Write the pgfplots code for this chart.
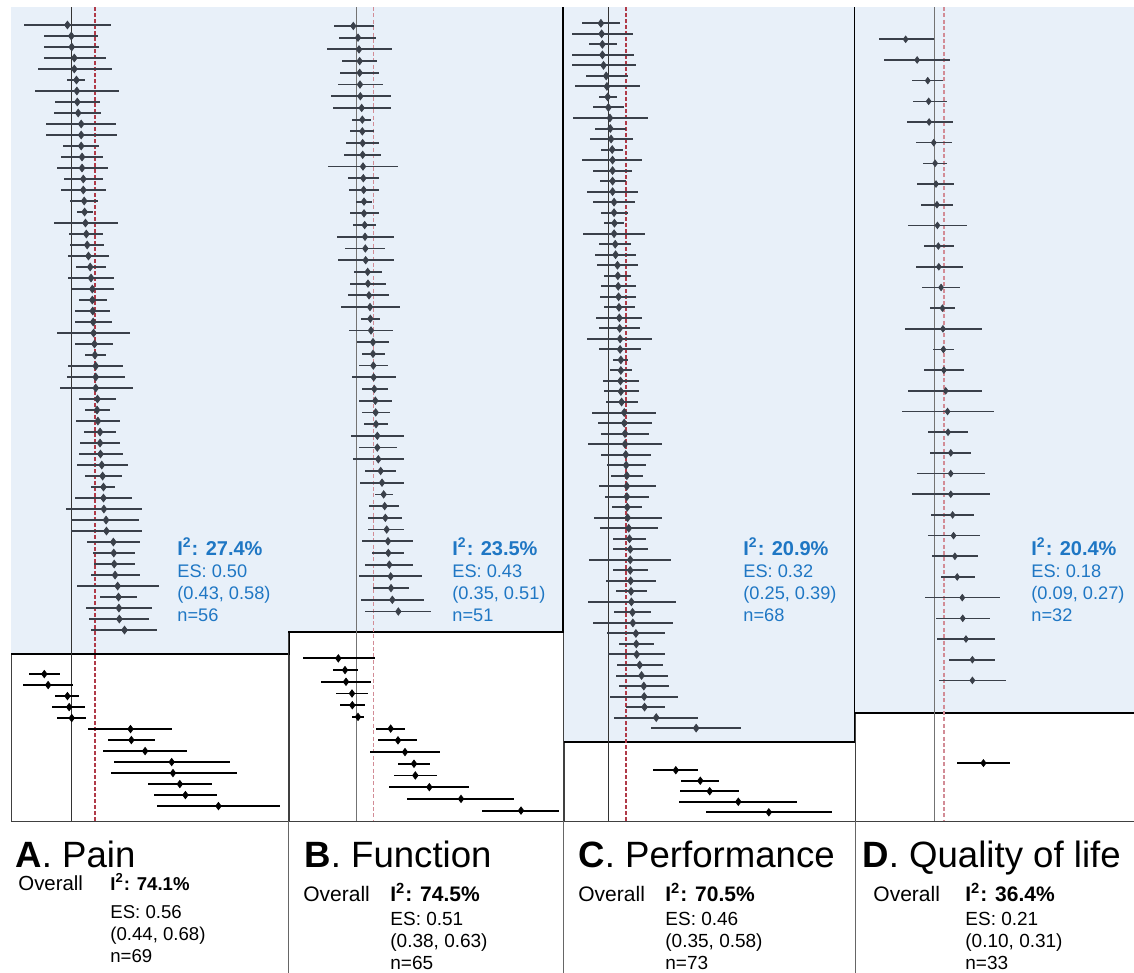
\documentclass[border=0pt]{standalone}
\usepackage{fontspec}
\setmainfont{Liberation Sans}
\usepackage{pgfplots}
\pgfplotsset{compat=1.18}
\usepackage{pgfplotstable}
\definecolor{bluebg}{RGB}{232,240,249}
\definecolor{bluetxt}{RGB}{31,119,196}
\definecolor{cigray}{RGB}{58,64,74}
\definecolor{dashred}{RGB}{176,58,72}
\definecolor{dashpink}{RGB}{210,140,150}

\pgfplotstableread{
s es lo hi
1 -0.09 -1.11 0.92
2 0.00 -0.63 0.63
3 0.01 -0.63 0.64
4 0.07 -0.64 0.80
5 0.07 -0.78 0.94
6 0.12 -0.11 0.33
7 0.13 -0.85 1.11
8 0.14 -0.38 0.67
9 0.16 -0.40 0.69
10 0.23 -0.59 1.05
11 0.23 -0.59 1.06
12 0.23 -0.19 0.65
13 0.25 -0.23 0.74
14 0.25 -0.33 0.85
15 0.28 -0.18 0.74
16 0.28 -0.23 0.80
17 0.30 -0.02 0.63
18 0.31 0.13 0.50
19 0.33 -0.40 1.10
20 0.35 -0.05 0.75
21 0.37 -0.02 0.77
22 0.40 -0.07 0.87
23 0.44 0.10 0.81
24 0.46 -0.07 1.00
25 0.49 0.02 1.00
26 0.49 0.17 0.84
27 0.50 0.09 0.90
28 0.51 0.09 0.94
29 0.52 -0.34 1.37
30 0.54 0.09 0.98
31 0.55 0.31 0.80
32 0.57 -0.07 1.20
33 0.57 -0.09 1.24
34 0.57 -0.26 1.43
35 0.61 0.17 1.04
36 0.60 0.31 0.90
37 0.62 0.11 1.14
38 0.67 0.29 1.05
39 0.67 0.21 1.14
40 0.68 0.17 1.20
41 0.71 0.14 1.31
42 0.73 0.31 1.17
43 0.75 0.47 1.03
44 0.75 0.08 1.42
45 0.76 -0.12 1.65
46 0.81 0.00 1.58
47 0.82 0.00 1.64
48 0.98 0.37 1.59
49 0.99 0.50 1.48
50 1.00 0.52 1.49
51 1.02 0.47 1.59
52 1.08 0.14 2.04
53 1.10 0.68 1.52
54 1.11 0.35 1.87
55 1.12 0.42 1.82
56 1.24 0.47 2.00
}\Ain
\pgfplotstableread{
s es lo hi
60 -0.63 -0.99 -0.26
61 -0.54 -1.13 0.04
62 -0.09 -0.37 0.18
63 -0.05 -0.44 0.32
64 0.01 -0.33 0.35
65 1.38 0.40 2.34
66 1.40 0.86 1.95
67 1.72 0.75 2.69
68 2.34 0.99 3.69
69 2.37 0.92 3.86
70 2.53 1.78 3.28
71 2.66 1.92 3.40
72 3.43 2.00 4.87
}\Aout
\pgfplotstableread{
s es lo hi
1 -0.10 -0.69 0.52
2 0.04 -0.53 0.59
3 0.07 -0.89 1.05
4 0.09 -0.44 0.62
5 0.09 -0.49 0.67
6 0.10 -0.56 0.78
7 0.11 -0.78 1.03
8 0.15 -0.71 1.02
9 0.17 -0.14 0.44
10 0.17 -0.20 0.52
11 0.18 -0.31 0.66
12 0.18 -0.38 0.73
13 0.19 -0.85 1.23
14 0.20 -0.27 0.66
15 0.21 -0.23 0.66
16 0.22 -0.03 0.47
17 0.22 -0.20 0.66
18 0.24 -0.12 0.59
19 0.25 -0.60 1.13
20 0.26 -0.34 0.86
21 0.27 -0.56 1.11
22 0.33 -0.07 0.75
23 0.34 -0.20 0.89
24 0.37 -0.25 0.97
25 0.40 -0.47 1.29
26 0.41 0.12 0.71
27 0.43 -0.23 1.10
28 0.49 0.02 0.97
29 0.49 0.16 0.84
30 0.50 0.07 0.95
31 0.51 -0.15 1.17
32 0.53 0.16 0.93
33 0.56 0.07 1.06
34 0.57 0.16 0.99
35 0.58 0.22 0.95
36 0.62 -0.17 1.41
37 0.62 0.07 1.20
38 0.65 -0.11 1.41
39 0.72 0.25 1.19
40 0.76 0.09 1.43
41 0.81 0.55 1.08
42 0.84 0.38 1.28
43 0.86 0.35 1.35
44 0.90 0.35 1.43
45 0.94 0.15 1.70
46 0.95 0.47 1.41
47 0.98 0.25 1.70
48 1.02 0.07 1.97
49 1.03 0.49 1.57
50 1.07 0.13 2.01
51 1.25 0.25 2.23
}\Bin
\pgfplotstableread{
s es lo hi
55 -0.55 -1.62 0.55
56 -0.35 -0.71 0.03
57 -0.32 -1.07 0.44
58 -0.14 -0.63 0.34
59 -0.13 -0.51 0.25
60 0.04 -0.15 0.23
61 1.02 0.58 1.45
62 1.24 0.65 1.80
63 1.45 0.41 2.51
64 1.72 1.25 2.20
65 1.76 1.11 2.42
66 2.18 0.98 3.38
67 3.13 1.52 4.73
68 4.93 3.77 6.07
}\Bout
\pgfplotstableread{
s es lo hi
1 -0.20 -0.71 0.31
2 -0.18 -0.97 0.65
3 -0.16 -0.51 0.22
4 -0.16 -0.97 0.68
5 -0.13 -0.96 0.73
6 -0.06 -0.59 0.51
7 -0.04 -0.88 0.84
8 -0.02 -0.25 0.22
9 0.00 -0.42 0.42
10 0.04 -0.95 1.04
11 0.05 -0.35 0.46
12 0.07 -0.50 0.66
13 0.10 -0.19 0.39
14 0.11 -0.69 0.90
15 0.11 -0.40 0.62
16 0.11 -0.22 0.46
17 0.11 -0.56 0.79
18 0.15 -0.40 0.71
19 0.15 -0.20 0.51
20 0.16 -0.12 0.42
21 0.15 -0.67 0.98
22 0.18 -0.24 0.59
23 0.19 -0.36 0.74
24 0.24 -0.30 0.79
25 0.25 -0.11 0.60
26 0.26 -0.20 0.74
27 0.27 -0.22 0.74
28 0.28 -0.12 0.71
29 0.29 -0.32 0.90
30 0.30 -0.24 0.84
31 0.31 -0.56 1.16
32 0.31 -0.24 0.87
33 0.33 0.12 0.52
34 0.33 0.04 0.63
35 0.32 -0.15 0.80
36 0.33 -0.13 0.81
37 0.35 -0.06 0.78
38 0.42 -0.43 1.26
39 0.42 -0.29 1.16
40 0.44 -0.20 1.09
41 0.44 -0.53 1.43
42 0.46 -0.20 1.13
43 0.47 -0.04 0.99
44 0.49 0.06 0.92
45 0.49 -0.26 1.26
46 0.49 -0.10 1.09
47 0.50 0.10 0.90
48 0.51 -0.38 1.43
49 0.54 -0.22 1.32
50 0.56 0.13 0.99
51 0.58 0.13 1.04
52 0.58 -0.51 1.66
53 0.58 0.12 1.06
54 0.59 -0.06 1.26
55 0.60 0.19 1.02
56 0.61 -0.55 1.79
57 0.64 0.15 1.12
58 0.65 -0.40 1.71
59 0.73 -0.04 1.51
60 0.74 0.28 1.22
61 0.75 0.00 1.51
62 0.83 0.24 1.45
63 0.88 0.19 1.58
64 0.94 0.28 1.61
65 0.95 0.04 1.86
66 0.96 0.46 1.49
67 1.27 0.16 2.39
68 2.33 1.12 3.52
}\Cin
\pgfplotstableread{
s es lo hi
72 1.79 1.19 2.39
73 2.44 1.94 2.95
74 2.69 1.91 3.46
75 3.45 1.88 5.02
76 4.26 2.58 5.93
}\Cout
\pgfplotstableread{
s es lo hi
1 -0.62 -1.20 0.00
2 -0.37 -1.09 0.34
3 -0.14 -0.49 0.20
4 -0.12 -0.47 0.27
5 -0.11 -0.59 0.40
6 -0.01 -0.40 0.38
7 0.02 -0.25 0.28
8 0.04 -0.37 0.44
9 0.06 -0.28 0.40
10 0.07 -0.57 0.72
11 0.09 -0.22 0.43
12 0.10 -0.40 0.62
13 0.15 -0.26 0.57
14 0.18 -0.09 0.46
15 0.19 -0.64 1.04
16 0.20 -0.02 0.43
17 0.21 -0.22 0.65
18 0.25 -0.57 1.04
19 0.29 -0.70 1.30
20 0.30 -0.13 0.73
21 0.36 -0.09 0.81
22 0.36 -0.37 1.10
23 0.36 -0.48 1.22
24 0.40 -0.07 0.86
25 0.42 -0.14 0.99
26 0.45 -0.04 0.96
27 0.50 0.14 0.88
28 0.61 -0.20 1.44
29 0.62 0.04 1.22
30 0.69 0.07 1.31
31 0.83 0.33 1.33
32 0.83 0.11 1.55
}\Din
\pgfplotstableread{
s es lo hi
36 1.07 0.49 1.65
}\Dout

\pgfplotsset{
  forest/.style={scale only axis, height=407pt, y dir=reverse, anchor=north west,
    xtick=\empty, ytick=\empty, axis line style={black!75, line width=0.5pt}, clip=false},
  ci/.style n args={3}{only marks, mark=diamond*, mark size=#3, color=#1,
    mark options={fill=#1, draw=#1},
    error bars/.cd, x dir=both, x explicit, error mark=none,
    error bar style={line width=#2, color=#1}},
}

\begin{document}
\begin{tikzpicture}
\useasboundingbox (0,0) rectangle (567pt,-486.5pt);

% ---------------- Panel A
\begin{axis}[forest, at={(5.5pt,-3.5pt)}, width=139pt,
  xmin=-1.406, xmax=5.075, ymin=-0.636, ymax=73.36]
\fill[bluebg] (axis cs:-1.406,-0.636) rectangle (axis cs:5.075,58.18);
\draw[black, line width=1.1pt] (axis cs:-1.406,58.18) -- (axis cs:5.075,58.18) -- (axis cs:5.075,-0.636);
\addplot[black!80, line width=0.7pt] coordinates {(0,-0.636) (0,73.36)};
\addplot[dashred, line width=0.9pt, dash pattern=on 2pt off 1pt] coordinates {(0.56,-0.636) (0.56,73.36)};
\addplot[ci={cigray}{1pt}{1.9pt}] table[x=es, y=s, x error plus expr={\thisrow{hi}-\thisrow{es}}, x error minus expr={\thisrow{es}-\thisrow{lo}}] {\Ain};
\addplot[ci={black}{1pt}{1.8pt}] table[x=es, y=s, x error plus expr={\thisrow{hi}-\thisrow{es}}, x error minus expr={\thisrow{es}-\thisrow{lo}}] {\Aout};
\end{axis}

% ---------------- Panel B
\begin{axis}[forest, at={(144pt,-3.5pt)}, width=137.5pt,
  xmin=-2.06, xmax=6.19, ymin=-0.62, ymax=68.89]
\fill[bluebg] (axis cs:-2.06,-0.62) rectangle (axis cs:6.19,52.75);
\draw[black, line width=1.1pt] (axis cs:-2.06,52.75) -- (axis cs:6.19,52.75) -- (axis cs:6.19,-0.62);
\addplot[black!55, line width=0.5pt] coordinates {(0,-0.62) (0,68.89)};
\addplot[dashpink, line width=0.7pt, dash pattern=on 2pt off 1.2pt] coordinates {(0.51,-0.62) (0.51,68.89)};
\addplot[ci={cigray}{0.9pt}{1.8pt}] table[x=es, y=s, x error plus expr={\thisrow{hi}-\thisrow{es}}, x error minus expr={\thisrow{es}-\thisrow{lo}}] {\Bin};
\addplot[ci={black}{0.95pt}{1.8pt}] table[x=es, y=s, x error plus expr={\thisrow{hi}-\thisrow{es}}, x error minus expr={\thisrow{es}-\thisrow{lo}}] {\Bout};
\end{axis}

% ---------------- Panel C
\begin{axis}[forest, at={(282pt,-3.5pt)}, width=145.5pt,
  xmin=-1.18, xmax=6.55, ymin=-0.55, ymax=76.83]
\fill[bluebg] (axis cs:-1.18,-0.55) rectangle (axis cs:6.55,69.32);
\draw[black, line width=1.1pt] (axis cs:-1.18,69.32) -- (axis cs:6.55,69.32) -- (axis cs:6.55,-0.55);
\addplot[black!80, line width=0.7pt] coordinates {(0,-0.55) (0,76.83)};
\addplot[dashred, line width=0.9pt, dash pattern=on 2pt off 1pt] coordinates {(0.46,-0.55) (0.46,76.83)};
\addplot[ci={cigray}{1pt}{1.9pt}] table[x=es, y=s, x error plus expr={\thisrow{hi}-\thisrow{es}}, x error minus expr={\thisrow{es}-\thisrow{lo}}] {\Cin};
\addplot[ci={black}{1pt}{1.8pt}] table[x=es, y=s, x error plus expr={\thisrow{hi}-\thisrow{es}}, x error minus expr={\thisrow{es}-\thisrow{lo}}] {\Cout};
\end{axis}

% ---------------- Panel D
\begin{axis}[forest, at={(427.5pt,-3.5pt)}, width=139.5pt,
  xmin=-1.72, xmax=4.34, ymin=-0.56, ymax=38.80]
\fill[bluebg] (axis cs:-1.72,-0.56) rectangle (axis cs:4.34,33.58);
\draw[black, line width=1.1pt] (axis cs:-1.72,33.58) -- (axis cs:4.34,33.58);
\addplot[black!55, line width=0.5pt] coordinates {(0,-0.56) (0,38.80)};
\addplot[dashpink, line width=0.7pt, dash pattern=on 2pt off 1.2pt] coordinates {(0.21,-0.56) (0.21,38.80)};
\addplot[ci={cigray}{0.8pt}{1.6pt}] table[x=es, y=s, x error plus expr={\thisrow{hi}-\thisrow{es}}, x error minus expr={\thisrow{es}-\thisrow{lo}}] {\Din};
\addplot[ci={black}{0.9pt}{1.7pt}] table[x=es, y=s, x error plus expr={\thisrow{hi}-\thisrow{es}}, x error minus expr={\thisrow{es}-\thisrow{lo}}] {\Dout};
\end{axis}

\begin{scope}[x=0.5pt, y=-0.5pt]
\foreach \xx in {288.5,563.5,855} {\draw[black!60, line width=0.4pt] (\xx,821) -- (\xx,973);}
\tikzset{lab/.style={anchor=base west, inner sep=0pt}}
\foreach \xx/\ii/\es/\ci/\n in {177/27.4/0.50/{(0.43, 0.58)}/56, 452/23.5/0.43/{(0.35, 0.51)}/51, 743/20.9/0.32/{(0.25, 0.39)}/68, 1031/20.4/0.18/{(0.09, 0.27)}/32} {
  \node[lab, text=bluetxt, font=\fontsize{10}{12}\selectfont\bfseries] at (\xx,555) {I\textsuperscript{2}: \ii\%};
  \node[lab, text=bluetxt, font=\fontsize{9.1}{11}\selectfont] at (\xx,577) {ES: \es};
  \node[lab, text=bluetxt, font=\fontsize{9.1}{11}\selectfont] at (\xx,599) {\ci};
  \node[lab, text=bluetxt, font=\fontsize{9.1}{11}\selectfont] at (\xx,621) {n=\n};
}
\node[lab, font=\fontsize{18.3}{22}\selectfont] at (15,867) {\textbf{A}. Pain};
\node[lab, font=\fontsize{18.3}{22}\selectfont] at (304,867) {\textbf{B}. Function};
\node[lab, font=\fontsize{18.3}{22}\selectfont] at (578,867) {\textbf{C}. Performance};
\node[lab, font=\fontsize{18.3}{22}\selectfont] at (862,867) {\textbf{D}. Quality of life};
\node[lab, font=\fontsize{10.2}{12}\selectfont] at (18,890) {Overall};
\node[lab, font=\fontsize{9.3}{11}\selectfont\bfseries] at (110,890) {I\textsuperscript{2}: 74.1\%};
\node[lab, font=\fontsize{9.3}{11}\selectfont] at (110,918) {ES: 0.56};
\node[lab, font=\fontsize{9.3}{11}\selectfont] at (110,940) {(0.44, 0.68)};
\node[lab, font=\fontsize{9.3}{11}\selectfont] at (110,962) {n=69};
\foreach \xo/\xi/\ii/\es/\ci/\n in {303/390/74.5/0.51/{(0.38, 0.63)}/65, 578/665/70.5/0.46/{(0.35, 0.58)}/73, 873/965/36.4/0.21/{(0.10, 0.31)}/33} {
  \node[lab, font=\fontsize{10.5}{12}\selectfont] at (\xo,901) {Overall};
  \node[lab, font=\fontsize{10.5}{12}\selectfont\bfseries] at (\xi,901) {I\textsuperscript{2}: \ii\%};
  \node[lab, font=\fontsize{9.5}{11}\selectfont] at (\xi,925) {ES: \es};
  \node[lab, font=\fontsize{9.5}{11}\selectfont] at (\xi,947) {\ci};
  \node[lab, font=\fontsize{9.5}{11}\selectfont] at (\xi,969) {n=\n};
}
\end{scope}
\end{tikzpicture}
\end{document}
